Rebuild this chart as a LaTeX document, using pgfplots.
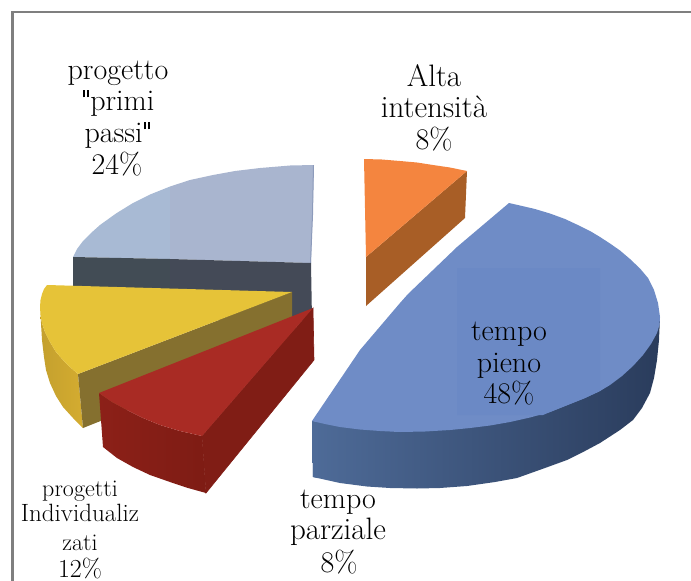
\documentclass[border=0pt]{standalone}
\usepackage{pgfplots}
\pgfplotsset{compat=1.18}
\definecolor{lb}{HTML}{A9B5CF}
\definecolor{lbl}{HTML}{A8BAD4}
\definecolor{lbs}{HTML}{8D9BBB}
\definecolor{dk}{HTML}{444A57}
\definecolor{dkl}{HTML}{424C55}
\definecolor{yt}{HTML}{E6C338}
\definecolor{yd}{HTML}{85702F}
\definecolor{rt}{HTML}{A92B24}
\definecolor{rd}{HTML}{801D15}
\definecolor{bt}{HTML}{6F8CC6}
\definecolor{bt2}{HTML}{6B89C5}
\definecolor{bs}{HTML}{4E6B98}
\definecolor{ot}{HTML}{F4853F}
\definecolor{od}{HTML}{A85E26}
\definecolor{fr}{HTML}{7F7F7F}
\newcommand{\sq}{\kern.05em\rule[.42em]{.05em}{.25em}\kern.09em\rule[.42em]{.05em}{.25em}\kern.05em}
\begin{document}
\begin{tikzpicture}
\begin{axis}[
  scale only axis, width=691pt, height=581pt,
  xmin=0, xmax=691, ymin=0, ymax=581, y dir=reverse,
  axis lines=none, clip=true,
]
\path (axis cs:0,0) rectangle (axis cs:691,581);
% frame
\addplot[fr, line width=2.2pt, no marks] coordinates {(12.5,581)(12.5,12)(691,12)};
% progetto primi passi
\addplot[fill=lbl, draw=none, no marks] coordinates {(170,186.5)(150,194.5)(133,203)(116,213.5)(100,225)(91,233)(83,241)(77,249)(73,257)(170,259)} --cycle;
\addplot[fill=lb, draw=none, no marks] coordinates {(314,165)(290,165.5)(260,168)(235,171)(213,175)(190,180)(170,186.5)(170,259)(311,263)} --cycle;
\addplot[fill=lbs, draw=none, no marks] coordinates {(314,165)(313,215)(311,263)(310,263)(312,215)(313,165)} --cycle;
\addplot[fill=dkl, draw=none, no marks] coordinates {(73,257)(170,259)(170,300)(73,292)} --cycle;
\addplot[fill=dk, draw=none, no marks] coordinates {(170,259)(311,263)(312,320)(170,320)} --cycle;
% alta intensita
\addplot[fill=od, draw=none, no marks] coordinates {(467,171)(465,218)(366,306)(366,257)} --cycle;
\addplot[fill=ot, draw=none, no marks] coordinates {(364,159)(382,159.5)(400,161)(417,162.5)(433,165)(450,167.5)(467,171)(366,257)} --cycle;
% tempo pieno
\addplot[draw=none, no marks, left color={rgb,255:red,78;green,107;blue,152}, middle color={rgb,255:red,48;green,68;blue,102}, right color={rgb,255:red,42;green,60;blue,92}]
 coordinates {(660,317)(659,340)(657,360)(654,378)(650,393)(642,408)(633,420)(620,430)(600,443)(585,451)(567,460)(545,468)(517,478)(495,482)(467,486)(440,488)(417,488.5)(390,488)(367,486.5)(340,483)(313,477)(312,421)(400,432)(600,391)} --cycle;
\addplot[fill=bs, draw=none, no marks] coordinates {(312,421)(313,477)(318,478)(318,422)} --cycle;
\addplot[fill=bt, draw=none, no marks] coordinates {(509,203)(520,205.5)(535,209)(550,213.5)(565,219)(580,226)(590,231)(600,237)(610,243.5)(620,250.5)(630,259)(640,268.5)(648,278)(654,290)(658,303)(660,317)(659.5,325)(657,333)(651,344)(643,355)(633,366)(622,376)(610,385)(600,391)(585,398)(570,404)(550,412)(530,417.5)(510,422)(490,425.5)(470,428)(450,430)(425,431.5)(400,432)(380,431)(360,429.5)(340,427)(325,424)(312,421)(360,350)(400,303)(408,294)(457,247)} --cycle;
\addplot[fill=bt2, draw=none, no marks] coordinates {(457,268)(600,268)(600,391)(585,398)(570,404)(550,412)(543,415)(457,415)} --cycle;
% progetti individualizzati
\addplot[left color={rgb,255:red,196;green,160;blue,46}, right color={rgb,255:red,212;green,172;blue,48}, draw=none, no marks]
 coordinates {(40,307)(40.5,315)(42,323)(45,332)(50,342)(56,352)(63,360)(70,367)(78,374)(83,428)(73,418)(63,407)(56,396)(50,383)(46,370)(44,357)(42,340)} --cycle;
\addplot[fill=yd, draw=none, no marks] coordinates {(292,292)(78,374)(83,428)(292,345)} --cycle;
\addplot[fill=yt, draw=none, no marks] coordinates {(47,285)(292,292)(78,374)(70,367)(63,360)(56,352)(50,342)(45,332)(42,323)(40.5,315)(40,307)(40.5,300)(42,294)(44,289)} --cycle;
% tempo parziale
\addplot[left color={rgb,255:red,140;green,32;blue,24}, right color={rgb,255:red,126;green,28;blue,20}, draw=none, no marks]
 coordinates {(99,393)(112,402)(127,410)(143,418)(160,425)(180,431)(202,436)(206,493)(188,488)(170,482)(150,475)(133,467)(117,458)(103,447)} --cycle;
\addplot[fill=rd, draw=rd, line width=0.6pt, no marks] coordinates {(313,308)(202,436)(206,493)(314,360)} --cycle;
\addplot[fill=rt, draw=none, no marks] coordinates {(313,308)(99,393)(112,402)(127,410)(143,418)(160,425)(180,431)(202,436)} --cycle;
% labels
\newcommand{\lab}[3]{\node[anchor=base, inner sep=0pt, font=\fontsize{#3}{#3}\selectfont] at (axis cs:#1) {#2};}
\lab{118,79}{progetto}{30}
\lab{118,110}{\sq primi}{30}
\lab{118,142}{passi\sq}{30}
\lab{117,174}{24\%}{30}
\lab{434,86}{Alta}{31}
\lab{434,117}{intensità}{31}
\lab{434,149}{8\%}{30}
\lab{509,340}{tempo}{30}
\lab{509,372}{pieno}{30}
\lab{509,403}{48\%}{30}
\lab{338,508}{tempo}{30}
\lab{338,539}{parziale}{31}
\lab{339,572}{8\%}{30}
\lab{80,496}{progetti}{24}
\lab{80,521}{Individualiz}{25}
\lab{80,550}{zati}{24}
\lab{80,577}{12\%}{26}
\end{axis}
\end{tikzpicture}
\end{document}
